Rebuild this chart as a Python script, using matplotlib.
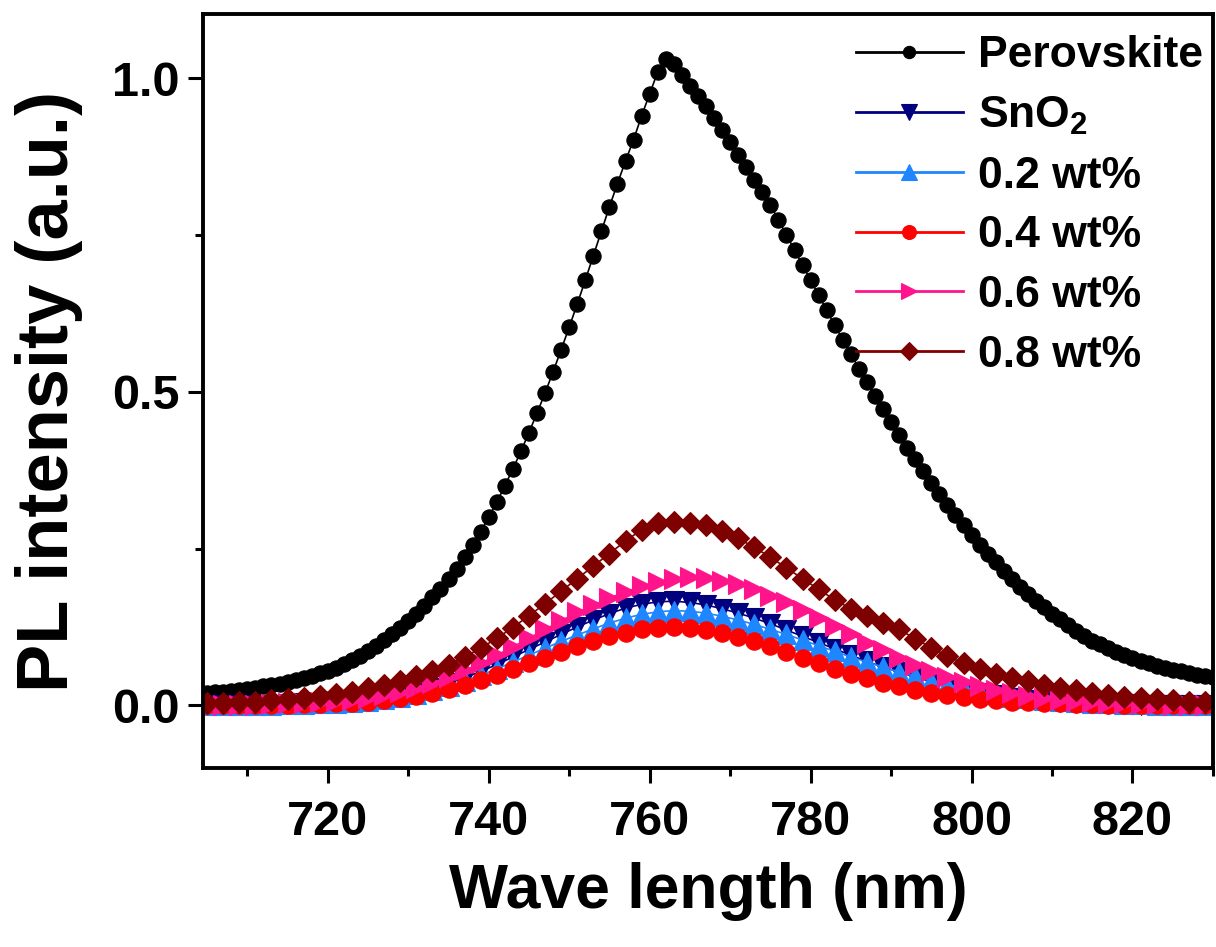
import matplotlib
import numpy as np

matplotlib.use("Agg")
import matplotlib.pyplot as plt
from matplotlib.ticker import MultipleLocator

# Perovskite sampled every 1 nm, the ETL films every 2 nm
wl_perovskite = np.arange(705, 831, 1)
wl_films = np.arange(705, 830, 2)

perovskite = [
    0.020, 0.021, 0.022, 0.023, 0.025, 0.026, 0.028, 0.030, 0.032, 0.034,
    0.037, 0.040, 0.043, 0.047, 0.051, 0.055, 0.060, 0.066, 0.072, 0.079,
    0.087, 0.095, 0.104, 0.113, 0.123, 0.134, 0.146, 0.158, 0.172, 0.186,
    0.201, 0.218, 0.236, 0.256, 0.277, 0.300, 0.324, 0.350, 0.377, 0.405,
    0.435, 0.466, 0.498, 0.532, 0.567, 0.603, 0.640, 0.678, 0.717, 0.756,
    0.795, 0.832, 0.868, 0.902, 0.940, 0.975, 1.010, 1.030, 1.022, 1.005,
    0.988, 0.972, 0.955, 0.937, 0.918, 0.898, 0.878, 0.858, 0.838, 0.818,
    0.798, 0.774, 0.750, 0.726, 0.702, 0.678, 0.654, 0.630, 0.606, 0.583,
    0.560, 0.537, 0.515, 0.493, 0.472, 0.451, 0.431, 0.411, 0.392, 0.373,
    0.355, 0.337, 0.320, 0.303, 0.287, 0.271, 0.256, 0.242, 0.228, 0.214,
    0.201, 0.189, 0.177, 0.166, 0.156, 0.146, 0.137, 0.128, 0.118, 0.110,
    0.103, 0.097, 0.091, 0.085, 0.080, 0.075, 0.071, 0.067, 0.063, 0.060,
    0.057, 0.054, 0.051, 0.049, 0.047, 0.045,
]

sno2 = [
    0.000, 0.000, 0.000, 0.001, 0.001, 0.002, 0.003, 0.004, 0.005, 0.006,
    0.008, 0.011, 0.015, 0.020, 0.027, 0.035, 0.044, 0.054, 0.065, 0.077,
    0.089, 0.101, 0.113, 0.125, 0.136, 0.146, 0.155, 0.161, 0.165, 0.166,
    0.164, 0.160, 0.154, 0.147, 0.139, 0.130, 0.120, 0.110, 0.100, 0.090,
    0.080, 0.070, 0.061, 0.053, 0.045, 0.038, 0.031, 0.025, 0.020, 0.016,
    0.012, 0.009, 0.007, 0.005, 0.004, 0.003, 0.002, 0.002, 0.001, 0.001,
    0.000, 0.000, 0.000,
]

wt02 = [
    0.000, 0.000, 0.000, 0.001, 0.001, 0.002, 0.002, 0.003, 0.004, 0.005,
    0.007, 0.010, 0.013, 0.018, 0.024, 0.031, 0.039, 0.048, 0.058, 0.069,
    0.080, 0.091, 0.102, 0.112, 0.122, 0.131, 0.139, 0.145, 0.149, 0.151,
    0.150, 0.147, 0.142, 0.136, 0.129, 0.121, 0.113, 0.104, 0.095, 0.086,
    0.077, 0.069, 0.061, 0.053, 0.046, 0.039, 0.033, 0.027, 0.022, 0.018,
    0.014, 0.011, 0.009, 0.007, 0.005, 0.004, 0.003, 0.002, 0.002, 0.001,
    0.001, 0.000, 0.000,
]

wt04 = [
    0.000, 0.000, 0.000, 0.000, 0.000, 0.001, 0.002, 0.002, 0.003, 0.004,
    0.006, 0.008, 0.011, 0.015, 0.020, 0.026, 0.033, 0.040, 0.049, 0.058,
    0.067, 0.076, 0.085, 0.094, 0.102, 0.110, 0.116, 0.121, 0.124, 0.125,
    0.124, 0.120, 0.115, 0.109, 0.102, 0.094, 0.085, 0.076, 0.067, 0.058,
    0.050, 0.043, 0.036, 0.030, 0.025, 0.020, 0.016, 0.013, 0.010, 0.008,
    0.006, 0.005, 0.004, 0.003, 0.002, 0.002, 0.001, 0.001, 0.000, 0.000,
    0.000, 0.000, 0.000,
]

wt06 = [
    0.000, 0.000, 0.001, 0.001, 0.002, 0.003, 0.004, 0.005, 0.007, 0.009,
    0.012, 0.016, 0.021, 0.028, 0.036, 0.045, 0.056, 0.067, 0.080, 0.093,
    0.107, 0.121, 0.135, 0.148, 0.160, 0.171, 0.181, 0.190, 0.197, 0.202,
    0.204, 0.203, 0.199, 0.193, 0.185, 0.175, 0.164, 0.152, 0.139, 0.126,
    0.113, 0.100, 0.088, 0.076, 0.065, 0.054, 0.045, 0.037, 0.030, 0.024,
    0.019, 0.015, 0.012, 0.009, 0.007, 0.005, 0.004, 0.003, 0.002, 0.002,
    0.001, 0.001, 0.000,
]

wt08 = [
    0.003, 0.004, 0.005, 0.006, 0.008, 0.010, 0.012, 0.015, 0.018, 0.022,
    0.027, 0.032, 0.038, 0.046, 0.055, 0.065, 0.077, 0.091, 0.107, 0.124,
    0.143, 0.162, 0.182, 0.202, 0.222, 0.242, 0.262, 0.280, 0.290, 0.292,
    0.291, 0.287, 0.278, 0.266, 0.252, 0.236, 0.219, 0.202, 0.185, 0.168,
    0.154, 0.142, 0.131, 0.121, 0.106, 0.092, 0.078, 0.067, 0.058, 0.050,
    0.044, 0.038, 0.033, 0.028, 0.024, 0.020, 0.017, 0.014, 0.012, 0.010,
    0.008, 0.006, 0.005,
]

labels = ["Perovskite", "SnO$_\\mathbf{2}$", "0.2 wt%", "0.4 wt%", "0.6 wt%", "0.8 wt%"]
colors = ["#000000", "#00007f", "#1e86ff", "#ff0000", "#ff148c", "#7f0000"]
markers = ["o", "v", "^", "o", ">", "D"]
sizes = [11, 14, 14, 12.5, 14, 11.5]


def main() -> None:
    plt.rcParams.update(
        {
            "font.family": "Liberation Sans",
            "font.weight": "bold",
            "mathtext.fontset": "custom",
            "mathtext.rm": "Liberation Sans:bold",
            "mathtext.bf": "Liberation Sans:bold",
        }
    )
    fig = plt.figure(figsize=(12.16, 9.47), dpi=100)
    ax = fig.add_axes([0.167, 0.189, 0.8305, 0.796])

    series = [
        (wl_perovskite, perovskite),
        (wl_films, sno2),
        (wl_films, wt02),
        (wl_films, wt04),
        (wl_films, wt06),
        (wl_films, wt08),
    ]
    for (x, y), label, color, marker, ms in zip(series, labels, colors, markers, sizes):
        ax.plot(x, y, color=color, marker=marker, markersize=ms, linewidth=1.2,
                markeredgewidth=0.8, markeredgecolor=color, label=label)

    ax.set_xlim(704.5, 830)
    ax.set_ylim(-0.1, 1.102)
    ax.xaxis.set_major_locator(MultipleLocator(20))
    ax.xaxis.set_minor_locator(MultipleLocator(10))
    ax.yaxis.set_major_locator(MultipleLocator(0.5))
    ax.yaxis.set_minor_locator(MultipleLocator(0.25))

    for side in ax.spines.values():
        side.set_linewidth(2.8)
    ax.tick_params(which="major", direction="out", length=11, width=2.2, labelsize=35)
    ax.tick_params(which="minor", direction="out", length=6, width=2.2)
    ax.tick_params(axis="x", which="major", pad=12)
    ax.tick_params(axis="y", which="major", pad=6)

    ax.set_xlabel("Wave length (nm)", fontsize=45, fontweight="bold", labelpad=12)
    ax.set_ylabel("PL intensity (a.u.)", fontsize=52, fontweight="bold", labelpad=21)

    leg = ax.legend(loc="upper right", bbox_to_anchor=(0.999, 0.984), frameon=False,
                    fontsize=32, numpoints=1, handlelength=2.4, handletextpad=0.35,
                    labelspacing=0.42, borderaxespad=0, borderpad=0.2, markerscale=0.8)
    for line in leg.get_lines():
        line.set_linewidth(2.0)

    fig.savefig("out.png", dpi=100, facecolor="white")
    plt.close(fig)


if __name__ == "__main__":
    main()
